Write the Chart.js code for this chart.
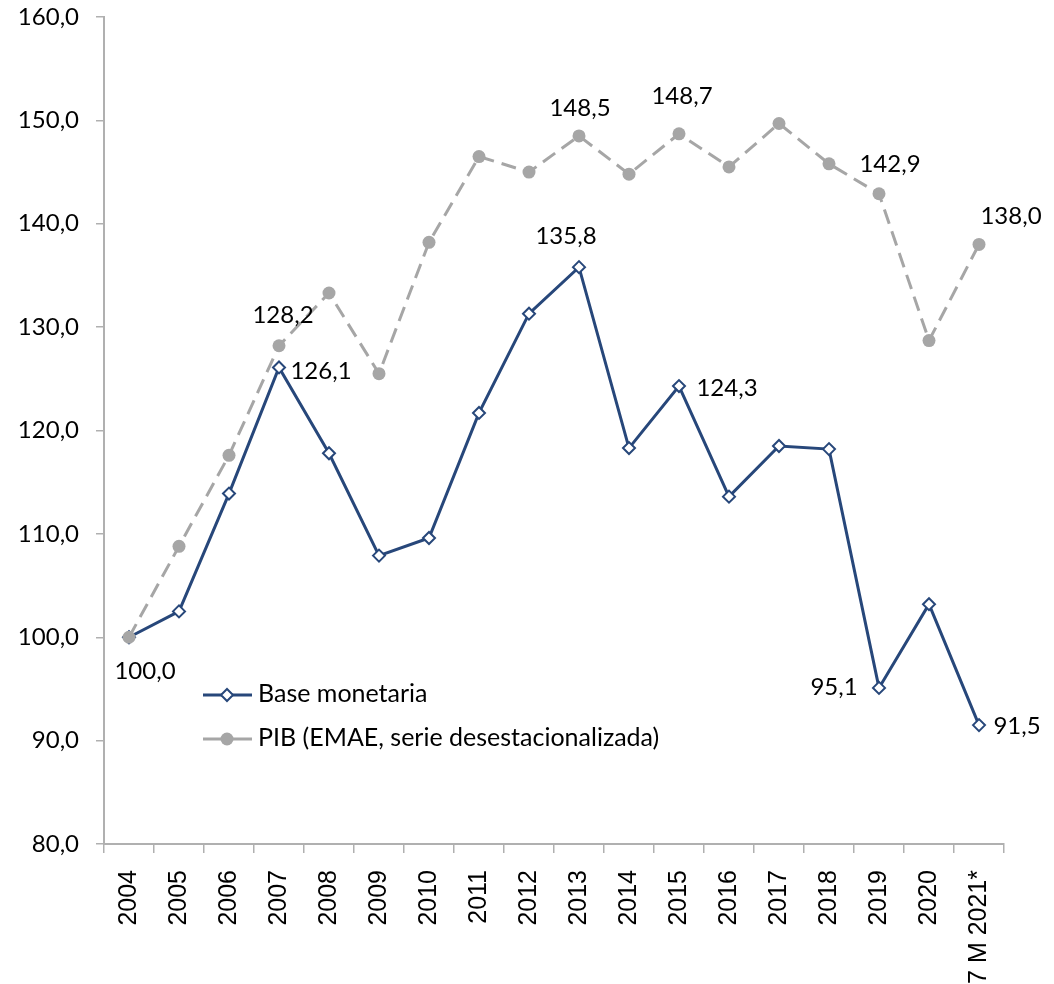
<!DOCTYPE html>
<html lang="es">
<head>
  <meta charset="UTF-8">
  <title>Base monetaria y PIB</title>
  <script src="https://cdn.jsdelivr.net/npm/chart.js"></script>
  <style>
    body {
      margin: 0;
      background: #fff;
    }
    #wrap {
      width: 1054px;
      height: 984px;
    }
  </style>
</head>
<body>
  <div id="wrap">
    <canvas id="chart" width="1054" height="984"></canvas>
  </div>

  <script>
    // data (index 2004 = 100)
    const categories = ["2004", "2005", "2006", "2007", "2008", "2009", "2010", "2011", "2012",
      "2013", "2014", "2015", "2016", "2017", "2018", "2019", "2020", "7 M 2021*"];
    const baseMonetaria = [100.0, 102.5, 113.9, 126.1, 117.8, 107.9, 109.6, 121.7, 131.3,
      135.8, 118.3, 124.3, 113.6, 118.5, 118.2, 95.1, 103.2, 91.5];
    const pib = [100.0, 108.8, 117.6, 128.2, 133.3, 125.5, 138.2, 146.5, 145.0,
      148.5, 144.8, 148.7, 145.5, 149.7, 145.8, 142.9, 128.7, 138.0];
    const yMin = 80;
    const yMax = 160;
    const yStep = 10;

    const blue = "#27477a";
    const gray = "#a6a6a6";
    const axisGray = "#b0b0b0";
    const labelFont = "Lato";

    const fmt = v => v.toFixed(1).replace(".", ",");

    // which points carry a value label, and where the label sits (dx, dy from the point)
    const pointLabels = [
      { ds: 0, i: 0, dx: 16, dy: 34 },
      { ds: 0, i: 3, dx: 42, dy: 4 },
      { ds: 0, i: 9, dx: -13, dy: -31 },
      { ds: 0, i: 11, dx: 48, dy: 2 },
      { ds: 0, i: 15, dx: -45, dy: -1 },
      { ds: 0, i: 17, dx: 38, dy: 1 },
      { ds: 1, i: 3, dx: 4, dy: -30 },
      { ds: 1, i: 9, dx: 1, dy: -28 },
      { ds: 1, i: 11, dx: 3, dy: -38 },
      { ds: 1, i: 15, dx: 11, dy: -30 },
      { ds: 1, i: 17, dx: 32, dy: -28 }
    ];

    const valueLabels = {
      id: "valueLabels",
      afterDatasetsDraw(chart) {
        const ctx = chart.ctx;
        ctx.save();
        ctx.font = "24px " + labelFont;
        ctx.fillStyle = "#000";
        ctx.textAlign = "center";
        ctx.textBaseline = "middle";
        pointLabels.forEach(p => {
          const pt = chart.getDatasetMeta(p.ds).data[p.i];
          const v = chart.data.datasets[p.ds].data[p.i];
          ctx.fillText(fmt(v), pt.x + p.dx, pt.y + p.dy);
        });
        ctx.restore();
      }
    };

    // legend drawn inside the plot, lower left
    const insideLegend = {
      id: "insideLegend",
      afterDraw(chart) {
        const ctx = chart.ctx;
        const items = [0, 1].map(k => chart.data.datasets[k]);
        ctx.save();
        items.forEach((ds, k) => {
          const y = 695 + k * 44;
          ctx.strokeStyle = ds.borderColor;
          ctx.lineWidth = 3;
          ctx.setLineDash([]);
          ctx.beginPath();
          ctx.moveTo(203, y);
          ctx.lineTo(252, y);
          ctx.stroke();
          ctx.fillStyle = ds.pointBackgroundColor;
          ctx.strokeStyle = ds.pointBorderColor;
          ctx.lineWidth = ds.pointBorderWidth;
          Chart.helpers.drawPoint(ctx, {
            pointStyle: ds.pointStyle,
            radius: ds.pointRadius,
            borderWidth: ds.pointBorderWidth
          }, 227, y);
          ctx.font = "25px " + labelFont;
          ctx.fillStyle = "#000";
          ctx.textAlign = "left";
          ctx.textBaseline = "middle";
          ctx.fillText(ds.label, 258, y - 1);
        });
        ctx.restore();
      }
    };

    const ctx = document.getElementById("chart").getContext("2d");
    new Chart(ctx, {
      type: "line",
      data: {
        labels: categories,
        datasets: [
          {
            label: "Base monetaria",
            data: baseMonetaria,
            borderColor: blue,
            borderWidth: 3,
            pointStyle: "rectRot",
            pointRadius: 6,
            pointBorderWidth: 2,
            pointBackgroundColor: "#fff",
            pointBorderColor: blue,
            tension: 0,
            order: 2
          },
          {
            label: "PIB (EMAE, serie desestacionalizada)",
            data: pib,
            borderColor: gray,
            borderWidth: 3,
            borderDash: [15, 8],
            pointStyle: "circle",
            pointRadius: 6.5,
            pointBorderWidth: 0,
            pointBackgroundColor: gray,
            pointBorderColor: gray,
            tension: 0,
            order: 1
          }
        ]
      },
      options: {
        responsive: false,
        animation: false,
        layout: {
          padding: { top: 17, right: 50, left: 0, bottom: 0 }
        },
        plugins: {
          legend: { display: false },
          tooltip: { enabled: false }
        },
        scales: {
          x: {
            offset: true,
            afterFit(scale) {
              scale.height = 140;
              scale.paddingLeft = 0;
              scale.paddingRight = 0;
            },
            grid: {
              offset: true,
              drawOnChartArea: false,
              drawTicks: true,
              tickLength: 9,
              color: axisGray,
              lineWidth: 1.5
            },
            border: { color: axisGray, width: 2 },
            ticks: {
              autoSkip: false,
              minRotation: 90,
              maxRotation: 90,
              padding: 17,
              color: "#000",
              font: { family: "Liberation Sans", size: 25 }
            }
          },
          y: {
            min: yMin,
            max: yMax,
            afterFit(scale) {
              scale.width = 104;
              scale.paddingTop = 0;
              scale.paddingBottom = 0;
            },
            grid: {
              drawOnChartArea: false,
              drawTicks: true,
              tickLength: 8,
              color: axisGray,
              lineWidth: 1.5
            },
            border: { color: axisGray, width: 2 },
            ticks: {
              stepSize: yStep,
              padding: 17,
              color: "#000",
              font: { family: labelFont, size: 24 },
              callback: v => fmt(v)
            }
          }
        }
      },
      plugins: [valueLabels, insideLegend]
    });
  </script>
</body>
</html>
